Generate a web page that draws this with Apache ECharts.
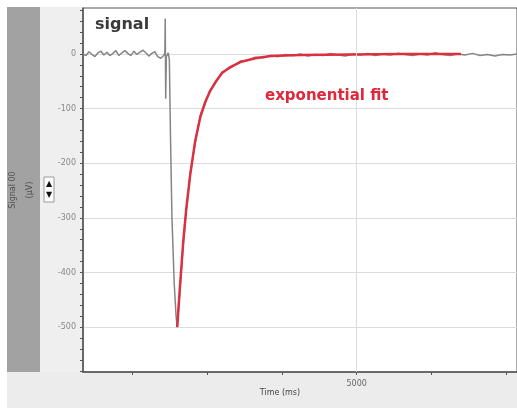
<!DOCTYPE html>
<html>
<head>
<meta charset="utf-8">
<script src="https://cdn.jsdelivr.net/npm/echarts@6/dist/echarts.min.js"></script>
<style>
  html, body { margin: 0; padding: 0; background: #fff; }
  #chart { width: 517px; height: 408px; }
</style>
</head>
<body>
<div id="chart"></div>
<script>
// recorded signal (ms, µV)
const signalTime = [
  1340, 1380, 1420, 1460, 1500, 1540, 1580, 1620, 1660, 1700, 1740, 1780, 1820, 1860,
  1900, 1940, 1980, 2020, 2060, 2100, 2140, 2180, 2220, 2260, 2300, 2340, 2380, 2420,
  2435, 2440, 2446, 2455, 2480, 2495, 2510, 2530, 2560, 2585, 2600,
  2640, 2680, 2720, 2775, 2840, 2910, 2975, 3040, 3110, 3200, 3310, 3445, 3550, 3645,
  3750, 3850, 3950, 4050, 4150, 4250, 4350, 4450, 4550, 4650, 4750, 4850, 4950, 5050,
  5150, 5250, 5350, 5450, 5550, 5650, 5750, 5850, 5950, 6050, 6150, 6250, 6350, 6450,
  6550, 6650, 6750, 6850, 6950, 7050, 7145
]
const signalValue = [
  0, -3, 4, -1, -5, 2, 5, -2, 3, -3, 1, 6, -3, 2,
  6, 1, -3, 5, -1, 3, 7, 2, -4, 1, 4, -5, -8, -3,
  2, 65, -82, -5, 2, -10, -150, -300, -420, -480, -500,
  -425, -350, -288, -218, -163, -112, -90, -66, -54, -33, -26, -13, -11, -6,
  -7, -3, -5, -1, -3, 0, -4, -1, -3, 1, -2, -4, 0, -2,
  1, -3, 0, -2, 1, -1, -3, 0, -2, 2, -1, -3, 0, -2,
  1, -3, -1, -4, -1, -2, 0
]
// exponential fit (ms, µV)
const fitTime = [2600, 2640, 2680, 2720, 2775, 2840, 2910, 2975, 3040, 3110, 3200, 3310, 3445, 3645, 3850, 4250, 4920, 5590, 6395]
const fitValue = [-500, -420, -345, -285, -220, -160, -115, -88, -68, -52, -35, -24, -15, -8, -4, -2, -1, 0, 0]

// axes
const yMajorTicks = [-500, -400, -300, -200, -100, 0]
const yMinorTicks = [-580, -560, -540, -520, -500, -480, -460, -440, -420, -400, -380, -360, -340, -320, -300,
  -280, -260, -240, -220, -200, -180, -160, -140, -120, -100, -80, -60, -40, -20, 0, 20, 40, 60, 80]
const xTicks = [2000, 3000, 4000, 5000, 6000, 7000]
const xLabels = [5000]

const chart = echarts.init(document.getElementById('chart'))

const yBase = {
  type: 'value',
  min: -582,
  max: 84,
  position: 'left'
}

const option = {
  animation: false,
  backgroundColor: '#fff',
  grid: {
    left: 83, top: 8, right: -2, bottom: 36,
    show: true,
    backgroundColor: '#fff',
    borderColor: '#555',
    borderWidth: 1
  },
  graphic: [
    { type: 'rect', z: -10, shape: { x: 7, y: 7, width: 33, height: 366 }, style: { fill: '#a2a2a2' } },
    { type: 'rect', z: -10, shape: { x: 40, y: 7, width: 43, height: 366 }, style: { fill: '#efefef' } },
    { type: 'rect', z: -10, shape: { x: 7, y: 372, width: 510, height: 36 }, style: { fill: '#ececec' } },
    {
      type: 'text', x: 13, y: 190, rotation: Math.PI / 2,
      style: { text: 'Signal 00', fill: '#505050', font: '8px "DejaVu Sans"', align: 'center', verticalAlign: 'middle' }
    },
    {
      type: 'text', x: 30, y: 190, rotation: Math.PI / 2,
      style: { text: '(µV)', fill: '#505050', font: '8px "DejaVu Sans"', align: 'center', verticalAlign: 'middle' }
    },
    { type: 'rect', shape: { x: 44, y: 177, width: 10, height: 25 }, style: { fill: '#fff', stroke: '#999', lineWidth: 1 } },
    {
      type: 'text', x: 49, y: 184,
      style: { text: '▲', fill: '#111', font: '8px "DejaVu Sans"', align: 'center', verticalAlign: 'middle' }
    },
    {
      type: 'text', x: 49, y: 195,
      style: { text: '▼', fill: '#111', font: '8px "DejaVu Sans"', align: 'center', verticalAlign: 'middle' }
    },
    {
      type: 'text', x: 95, y: 25, z: 100,
      style: { text: 'signal', fill: '#3a3a3a', font: 'bold 16px "DejaVu Sans"', verticalAlign: 'middle' }
    },
    {
      type: 'text', x: 265, y: 96, z: 100,
      style: { text: 'exponential fit', fill: '#e0283a', font: 'bold 15px "DejaVu Sans"', verticalAlign: 'middle' }
    },
    {
      type: 'text', x: 280, y: 393,
      style: { text: 'Time (ms)', fill: '#444', font: '8px "DejaVu Sans"', align: 'center', verticalAlign: 'middle' }
    }
  ],
  xAxis: {
    type: 'value',
    min: 1340,
    max: 7145,
    axisLine: { onZero: false, lineStyle: { color: '#555', width: 1.5 } },
    axisTick: { customValues: xTicks, length: 3, lineStyle: { color: '#555' } },
    axisLabel: {
      customValues: xLabels, color: '#666', fontSize: 8, fontFamily: 'DejaVu Sans', margin: 8,
      formatter: v => String(v)
    },
    splitLine: { show: false }
  },
  yAxis: [
    Object.assign({}, yBase, {
      axisLine: { show: true, lineStyle: { color: '#555', width: 1.5 } },
      axisTick: { show: true, customValues: yMajorTicks, length: 3, lineStyle: { color: '#555' } },
      axisLabel: { customValues: yMajorTicks, color: '#888', fontSize: 8, fontFamily: 'DejaVu Sans', margin: 7 },
      splitLine: { show: true, lineStyle: { color: '#dcdcdc', width: 1 } }
    }),
    Object.assign({}, yBase, {
      axisLine: { show: false },
      axisTick: { show: true, customValues: yMinorTicks, length: 3, lineStyle: { color: '#555' } },
      axisLabel: { show: false },
      splitLine: { show: false }
    })
  ],
  series: [
    {
      name: 'signal',
      type: 'line',
      showSymbol: false,
      data: signalTime.map((t, i) => [t, signalValue[i]]),
      lineStyle: { color: '#858585', width: 1.5 },
      z: 2,
      markLine: {
        silent: true,
        symbol: 'none',
        label: { show: false },
        lineStyle: { color: '#dcdcdc', width: 1, type: 'solid' },
        data: [{ xAxis: xLabels[0] }]
      }
    },
    {
      name: 'exponential fit',
      type: 'line',
      showSymbol: false,
      data: fitTime.map((t, i) => [t, fitValue[i]]),
      lineStyle: { color: '#dc2f3f', width: 2.5 },
      z: 3
    }
  ]
}

chart.setOption(option)
</script>
</body>
</html>
